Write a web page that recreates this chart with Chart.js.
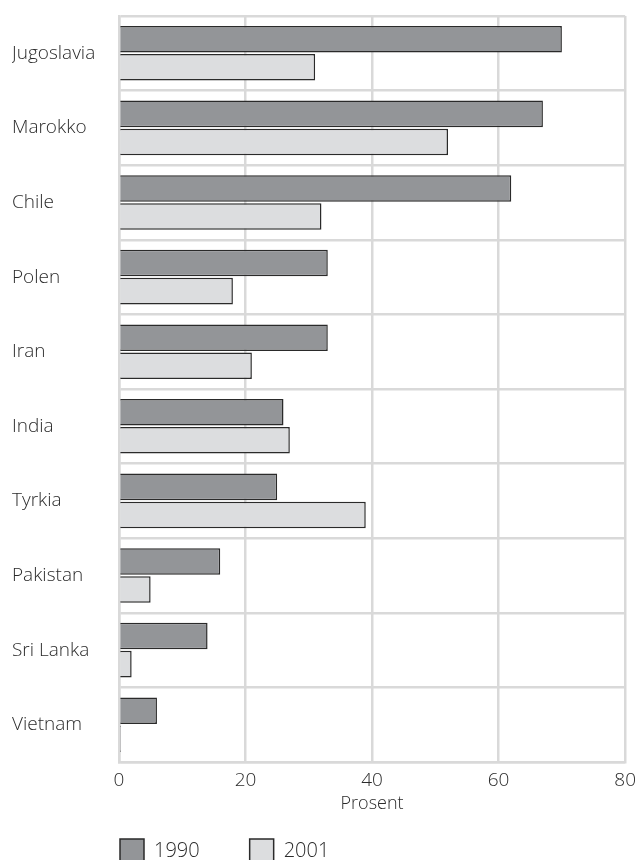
<!DOCTYPE html>
<html>
<head>
<meta charset="utf-8">
<script src="https://cdn.jsdelivr.net/npm/chart.js@4"></script>
<style>
  html, body { margin: 0; padding: 0; background: #fff; overflow: hidden; }
  #wrap { width: 643px; height: 906px; position: relative; }
</style>
</head>
<body>
<div id="wrap"><canvas id="myChart"></canvas></div>
<script>
// data
var countries = ["Jugoslavia", "Marokko", "Chile", "Polen", "Iran", "India", "Tyrkia", "Pakistan", "Sri Lanka", "Vietnam"];
var values1990 = [70, 67, 62, 33, 33, 26, 25, 16, 14, 6];
var values2001 = [31, 52, 32, 18, 21, 27, 39, 5, 2, 0.3];
var seriesNames = ["1990", "2001"];
var xTicks = [0, 20, 40, 60, 80];
var xTitle = "Prosent";

var gridColor = "#d9d9d9";
var textColor = "#2b2b2b";
var legendPad = 50;
var fontFam = "'Open Sans', sans-serif";

// move legend so it lines up under the plot area
var legendShift = {
  id: "legendShift",
  afterLayout: function (chart) {
    var area = chart.chartArea;
    chart.legend.left = area.left + 1 - legendPad;
    chart.legend.top = area.bottom + 77 - legendPad;
  },
};

(function () {
  buildChart();
})();

function buildChart() {
  var ctx = document.getElementById("myChart").getContext("2d");

  new Chart(ctx, {
    type: "bar",
    data: {
      labels: countries,
      datasets: [
        {
          label: seriesNames[0],
          data: values1990,
          backgroundColor: "#939598",
          borderColor: "#2a2a2a",
          borderWidth: 1.5,
        },
        {
          label: seriesNames[1],
          data: values2001,
          backgroundColor: "#dcdddf",
          borderColor: "#2a2a2a",
          borderWidth: 1.5,
        },
      ],
    },
    options: {
      indexAxis: "y",
      responsive: true,
      maintainAspectRatio: false,
      animation: false,
      categoryPercentage: 0.752,
      barPercentage: 0.946,
      layout: {
        padding: { left: 12, right: 14.5, top: 16, bottom: 0 },
      },
      plugins: {
        tooltip: { enabled: false },
        legend: {
          position: "bottom",
          align: "start",
          labels: {
            boxWidth: 24,
            boxHeight: 24,
            padding: legendPad,
            color: textColor,
            font: { family: fontFam, size: 20, weight: 300 },
          },
        },
      },
      scales: {
        x: {
          min: 0,
          max: 80,
          afterBuildTicks: function (scale) {
            scale.ticks = xTicks.map(function (v) { return { value: v }; });
          },
          afterFit: function (scale) {
            scale.height = 60;
          },
          grid: { color: gridColor, lineWidth: 2.5, drawTicks: false },
          border: { color: gridColor, width: 2.5 },
          ticks: {
            padding: 7,
            color: textColor,
            maxRotation: 0,
            font: { family: fontFam, size: 19, weight: 300 },
          },
          title: {
            display: true,
            text: xTitle,
            color: textColor,
            padding: { top: 0, bottom: 7 },
            font: { family: fontFam, size: 18, weight: 300 },
          },
        },
        y: {
          afterFit: function (scale) {
            scale.width = 107;
          },
          grid: { color: gridColor, lineWidth: 2.5, drawTicks: false, offset: true },
          border: { color: gridColor, width: 2.5 },
          ticks: {
            crossAlign: "far",
            color: textColor,
            font: { family: fontFam, size: 19, weight: 300 },
          },
        },
      },
    },
    plugins: [legendShift],
  });
}
</script>
</body>
</html>
